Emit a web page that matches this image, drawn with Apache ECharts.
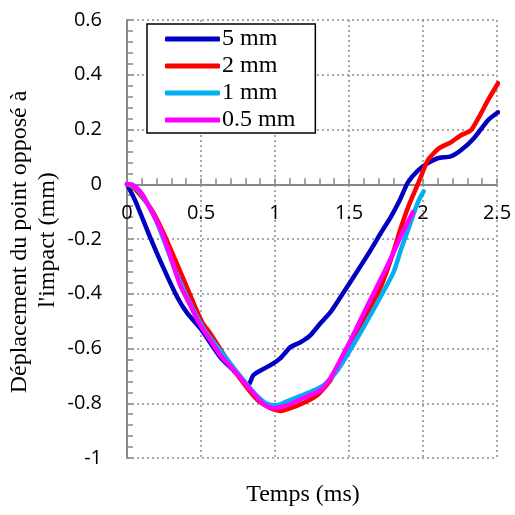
<!DOCTYPE html>
<html>
<head>
<meta charset="utf-8">
<script src="https://cdn.jsdelivr.net/npm/echarts@6/dist/echarts.min.js"></script>
<style>html,body{margin:0;padding:0;background:#fff}#c{width:515px;height:515px}</style>
</head>
<body>
<div id="c"></div>
<script>
var seriesNames = ['5 mm', '2 mm', '1 mm', '0.5 mm'];
var seriesColors = ['#0000C0', '#FF0000', '#00B0F0', '#FF00FF'];

var t5 = [0, 0.054, 0.156, 0.244, 0.339, 0.407, 0.495, 0.630, 0.718, 0.820, 0.854, 0.969, 1.037, 1.104, 1.172, 1.240, 1.308, 1.375, 1.443, 1.531, 1.646, 1.714, 1.782, 1.850, 1.897, 1.965, 2.033, 2.100, 2.188, 2.256, 2.344, 2.439, 2.507];
var d5 = [0, -0.058, -0.193, -0.303, -0.412, -0.471, -0.526, -0.631, -0.679, -0.734, -0.697, -0.661, -0.635, -0.595, -0.577, -0.551, -0.507, -0.467, -0.412, -0.339, -0.241, -0.179, -0.120, -0.050, 0.006, 0.050, 0.077, 0.095, 0.102, 0.124, 0.168, 0.234, 0.263];

var t2 = [0, 0.041, 0.108, 0.176, 0.244, 0.312, 0.379, 0.447, 0.508, 0.562, 0.678, 0.786, 0.881, 0.969, 1.037, 1.104, 1.192, 1.287, 1.375, 1.490, 1.626, 1.714, 1.782, 1.850, 1.904, 1.965, 2.033, 2.107, 2.188, 2.256, 2.324, 2.392, 2.439, 2.507];
var d2 = [0, -0.011, -0.051, -0.102, -0.175, -0.259, -0.343, -0.431, -0.504, -0.544, -0.642, -0.726, -0.788, -0.818, -0.828, -0.818, -0.799, -0.770, -0.715, -0.595, -0.471, -0.376, -0.277, -0.160, -0.077, 0.0, 0.088, 0.131, 0.153, 0.179, 0.197, 0.259, 0.307, 0.369];

var t1 = [0, 0.027, 0.068, 0.122, 0.190, 0.257, 0.325, 0.393, 0.461, 0.528, 0.596, 0.664, 0.766, 0.867, 0.949, 1.016, 1.084, 1.220, 1.328, 1.423, 1.558, 1.694, 1.802, 1.850, 1.897, 1.938, 1.972, 2.005];
var d1 = [0, -0.004, -0.018, -0.058, -0.124, -0.215, -0.314, -0.398, -0.471, -0.536, -0.584, -0.631, -0.701, -0.766, -0.803, -0.807, -0.792, -0.763, -0.734, -0.679, -0.560, -0.430, -0.320, -0.240, -0.170, -0.106, -0.058, -0.026];

var t05 = [0, 0.027, 0.061, 0.102, 0.156, 0.224, 0.291, 0.359, 0.427, 0.495, 0.562, 0.630, 0.745, 0.854, 0.921, 0.989, 1.084, 1.192, 1.308, 1.375, 1.511, 1.646, 1.748, 1.800, 1.850, 1.931];
var d05 = [0, 0.0, -0.011, -0.036, -0.088, -0.161, -0.259, -0.369, -0.442, -0.515, -0.569, -0.624, -0.693, -0.763, -0.803, -0.818, -0.807, -0.781, -0.752, -0.708, -0.569, -0.420, -0.310, -0.250, -0.190, -0.102];

var xMin = 0, xMax = 2.5, xStep = 0.5;
var yMin = -1, yMax = 0.6, yStep = 0.2;
var xTitle = 'Temps (ms)';
var yTitle1 = 'Déplacement du point opposé à';
var yTitle2 = "l'impact (mm)";

function pairs(t, d) { return t.map(function (v, i) { return [v, d[i]]; }); }
var allData = [pairs(t5, d5), pairs(t2, d2), pairs(t1, d1), pairs(t05, d05)];

var serif = '"Liberation Serif", "Times New Roman", serif';
var sans = '"Open Sans", "Noto Sans", sans-serif';

var gridTop = 20, gridBottom = 57, H = 515;
var plotH = H - gridTop - gridBottom;
var zeroOffset = plotH * (0 - yMin) / (yMax - yMin);

var gridLineStyle = { type: [2, 3], color: '#8a8a8a', width: 1.5, opacity: 1 };

var chart = echarts.init(document.getElementById('c'), null, { renderer: 'canvas' });
chart.setOption({
  animation: false,
  backgroundColor: '#fff',
  grid: { left: 127, right: 18, top: gridTop, bottom: gridBottom, containLabel: false, show: false },
  legend: {
    orient: 'vertical',
    left: 147, top: 24,
    data: seriesNames,
    icon: 'roundRect',
    itemWidth: 55, itemHeight: 5,
    itemGap: 3,
    padding: [3, 20, 1, 18],
    backgroundColor: '#fff',
    borderColor: '#000', borderWidth: 1.5,
    textStyle: { fontFamily: serif, fontSize: 24, color: '#000', padding: [0, 0, 0, -3] }
  },
  xAxis: [{
    type: 'value', min: xMin, max: xMax, interval: xStep,
    offset: -zeroOffset,
    axisLine: { onZero: false, lineStyle: { color: '#888', width: 2 } },
    axisTick: { show: true, inside: true, length: 6, lineStyle: { color: '#888', width: 1.5 } },
    minorTick: { show: true, splitNumber: 5, length: 6, lineStyle: { color: '#888', width: 1.5 } },
    axisLabel: { margin: 19, fontFamily: sans, fontSize: 20, color: '#000' },
    splitLine: { show: true, showMinLine: true, showMaxLine: true, lineStyle: gridLineStyle }
  }],
  yAxis: [{
    type: 'value', min: yMin, max: yMax, interval: yStep,
    axisLine: { show: true, onZero: false, lineStyle: { color: '#888', width: 2 } },
    axisTick: { show: true, inside: true, length: 6, lineStyle: { color: '#888', width: 1.5 } },
    minorTick: { show: true, splitNumber: 5, length: 6, lineStyle: { color: '#888', width: 1.5 } },
    axisLabel: { margin: 25, fontFamily: sans, fontSize: 20, color: '#000' },
    splitLine: { show: true, showMinLine: true, showMaxLine: true, lineStyle: gridLineStyle }
  }],
  graphic: [
    { type: 'text', x: 303, y: 495, style: { text: xTitle, font: '24px ' + serif, fill: '#000', textAlign: 'center', textVerticalAlign: 'middle' } },
    { type: 'text', x: 20, y: 242, rotation: Math.PI / 2, style: { text: yTitle1, font: '24px ' + serif, fill: '#000', textAlign: 'center', textVerticalAlign: 'middle' } },
    { type: 'text', x: 48, y: 240, rotation: Math.PI / 2, style: { text: yTitle2, font: '24px ' + serif, fill: '#000', textAlign: 'center', textVerticalAlign: 'middle' } }
  ],
  series: seriesNames.map(function (n, i) {
    return {
      name: n, type: 'line', data: allData[i], showSymbol: false, smooth: 0.2,
      color: seriesColors[i],
      lineStyle: { width: 4.5, color: seriesColors[i], cap: 'round', join: 'round' },
      z: 2 + i
    };
  })
});
</script>
</body>
</html>
